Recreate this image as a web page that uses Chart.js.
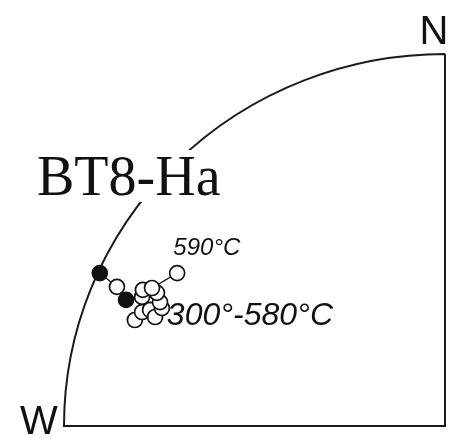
<!DOCTYPE html>
<html>
<head>
<meta charset="utf-8">
<style>
  html, body { margin: 0; padding: 0; background: #fff; }
  #wrap { width: 458px; height: 438px; }
</style>
<script src="https://cdn.jsdelivr.net/npm/chart.js@4/dist/chart.umd.min.js"></script>
</head>
<body>
<div id="wrap"><canvas id="c" width="458" height="438"></canvas></div>
<script>
// Equal-area projection coordinates of the demagnetization steps (NW quadrant).
// x: east component (negative = west), y: north component, unit circle = horizontal.
const projX = [-0.906, -0.861, -0.837, -0.795, -0.814, -0.795, -0.774, -0.761, -0.743, -0.748, -0.756, -0.793, -0.769, -0.703];
const projY = [ 0.411,  0.374,  0.339,  0.347,  0.285,  0.306,  0.312,  0.293,  0.317,  0.333,  0.358,  0.366,  0.371,  0.411];
// true = lower hemisphere (filled), false = upper hemisphere (open)
const lowerHemisphere = [true, false, true, false, false, false, false, false, false, false, false, false, false, false];

const siteName = 'BT8-Ha';
const axisLabels = { north: 'N', west: 'W' };
const stepLabels = [
  { text: '590°C', x: -0.713, y: 0.478, size: 24 },
  { text: '300°-580°C', x: -0.730, y: 0.295, size: 32 }
];

const points = projX.map((x, i) => ({ x, y: projY[i] }));

const framePlugin = {
  id: 'stereoFrame',
  beforeDatasetsDraw(chart) {
    const { ctx, scales: { x, y } } = chart;
    const cx = x.getPixelForValue(0), cy = y.getPixelForValue(0);
    const rx = cx - x.getPixelForValue(-1), ry = cy - y.getPixelForValue(1);
    ctx.save();
    ctx.strokeStyle = '#1a1a1a';
    ctx.lineWidth = 2;
    ctx.beginPath();
    ctx.moveTo(cx, cy - ry);
    ctx.lineTo(cx, cy);
    ctx.lineTo(cx - rx, cy);
    ctx.ellipse(cx, cy, rx, ry, 0, Math.PI, Math.PI * 1.5);
    ctx.stroke();

    // site name sits on a white box that interrupts the primitive circle
    ctx.font = '56px "Liberation Serif", "Times New Roman", serif';
    ctx.textBaseline = 'middle';
    ctx.textAlign = 'left';
    const w = ctx.measureText(siteName).width;
    ctx.fillStyle = '#fff';
    ctx.fillRect(33, 150, w + 10, 52);
    ctx.fillStyle = '#111';
    ctx.fillText(siteName, 37, 180);
    ctx.restore();
  },
  afterDatasetsDraw(chart) {
    const { ctx, scales: { x, y } } = chart;
    const cx = x.getPixelForValue(0), cy = y.getPixelForValue(0);
    const rx = cx - x.getPixelForValue(-1), ry = cy - y.getPixelForValue(1);
    ctx.save();
    ctx.fillStyle = '#111';
    ctx.textBaseline = 'middle';
    // cardinal letters
    ctx.font = '40px "Liberation Sans", Arial, sans-serif';
    ctx.textAlign = 'center';
    ctx.fillText(axisLabels.north, cx - 11, cy - ry - 21);
    ctx.fillText(axisLabels.west, cx - rx - 25, cy - 3);
    // temperature step labels
    stepLabels.forEach(l => {
      ctx.font = 'italic ' + l.size + 'px "Liberation Sans", Arial, sans-serif';
      ctx.textAlign = 'left';
      ctx.fillText(l.text, x.getPixelForValue(l.x), y.getPixelForValue(l.y));
    });
    ctx.restore();
  }
};

new Chart(document.getElementById('c'), {
  type: 'scatter',
  data: {
    datasets: [{
      data: points,
      showLine: true,
      borderColor: '#111',
      borderWidth: 1.3,
      pointRadius: 7.5,
      pointHoverRadius: 7.5,
      pointBorderWidth: 1.7,
      pointBorderColor: '#111',
      pointBackgroundColor: lowerHemisphere.map(f => f ? '#111' : '#fff'),
      clip: false
    }]
  },
  options: {
    responsive: false,
    animation: false,
    events: [],
    layout: { padding: { left: 64, right: 13, top: 54, bottom: 12 } },
    plugins: { legend: { display: false }, tooltip: { enabled: false } },
    scales: {
      x: { type: 'linear', min: -1, max: 0, display: false },
      y: { type: 'linear', min: 0, max: 1, display: false }
    }
  },
  plugins: [framePlugin]
});
</script>
</body>
</html>
